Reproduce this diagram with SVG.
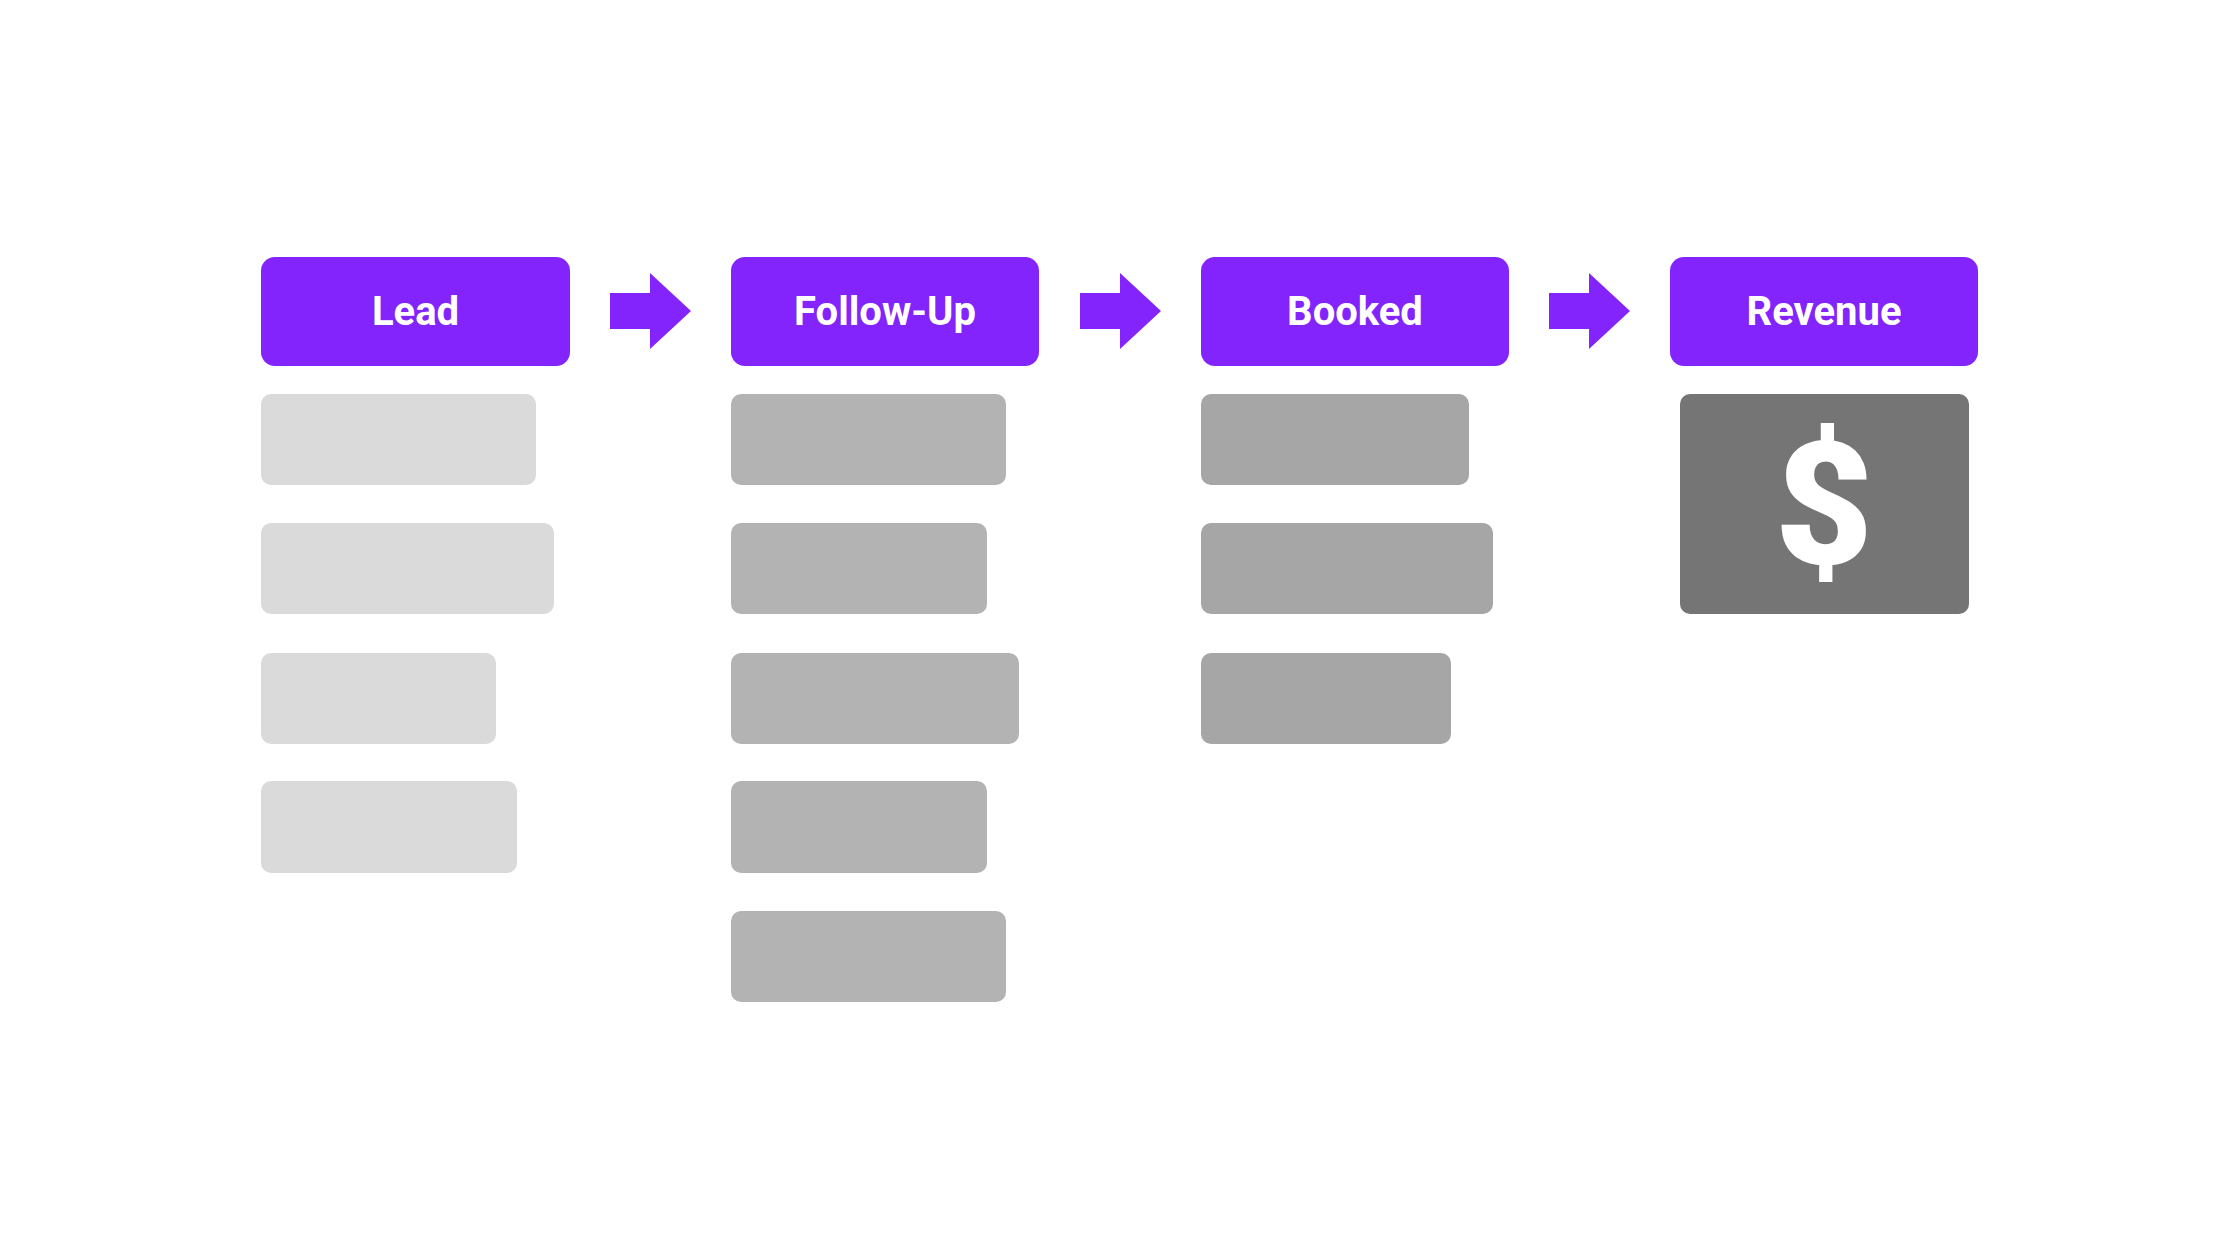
<svg xmlns="http://www.w3.org/2000/svg" width="2240" height="1260" viewBox="0 0 2240 1260">
<style>
.h{fill:#8224fb}
.t{fill:#fff;font-family:Roboto,"Liberation Sans",sans-serif;font-weight:700;font-size:40px;text-anchor:middle;dominant-baseline:central}
.a{fill:#8224fb}
.l{fill:#dadada}
.f{fill:#b3b3b3}
.b{fill:#a6a6a6}
</style>
<rect width="2240" height="1260" fill="#fff"/>
<g id="lead">
<rect class="h" x="261" y="257" width="309" height="109" rx="14"/>
<text class="t" x="415.5" y="311">Lead</text>
<rect class="l" x="261" y="394" width="275" height="91" rx="10"/>
<rect class="l" x="261" y="523" width="293" height="91" rx="10"/>
<rect class="l" x="261" y="653" width="235" height="91" rx="10"/>
<rect class="l" x="261" y="781" width="256" height="92" rx="10"/>
</g>
<g id="followup">
<rect class="h" x="731" y="257" width="308" height="109" rx="14"/>
<text class="t" x="885" y="311">Follow-Up</text>
<rect class="f" x="731" y="394" width="275" height="91" rx="10"/>
<rect class="f" x="731" y="523" width="256" height="91" rx="10"/>
<rect class="f" x="731" y="653" width="288" height="91" rx="10"/>
<rect class="f" x="731" y="781" width="256" height="92" rx="10"/>
<rect class="f" x="731" y="911" width="275" height="91" rx="10"/>
</g>
<g id="booked">
<rect class="h" x="1201" y="257" width="308" height="109" rx="14"/>
<text class="t" x="1355" y="311">Booked</text>
<rect class="b" x="1201" y="394" width="268" height="91" rx="10"/>
<rect class="b" x="1201" y="523" width="292" height="91" rx="10"/>
<rect class="b" x="1201" y="653" width="250" height="91" rx="10"/>
</g>
<g id="revenue">
<rect class="h" x="1670" y="257" width="308" height="109" rx="14"/>
<text class="t" x="1824" y="311">Revenue</text>
<rect x="1680" y="394" width="289" height="220" rx="10" fill="#757575"/>
<text x="1824" y="506" fill="#fff" font-family="Roboto,'Liberation Sans',sans-serif" font-weight="900" font-size="170" text-anchor="middle" dominant-baseline="central">$</text>
</g>
<g id="connectors">
<polygon class="a" points="610,293 650,293 650,273 691,311 650,349 650,329 610,329"/>
<polygon class="a" points="1080,293 1120,293 1120,273 1161,311 1120,349 1120,329 1080,329"/>
<polygon class="a" points="1549,293 1589,293 1589,273 1630,311 1589,349 1589,329 1549,329"/>
</g>
</svg>
